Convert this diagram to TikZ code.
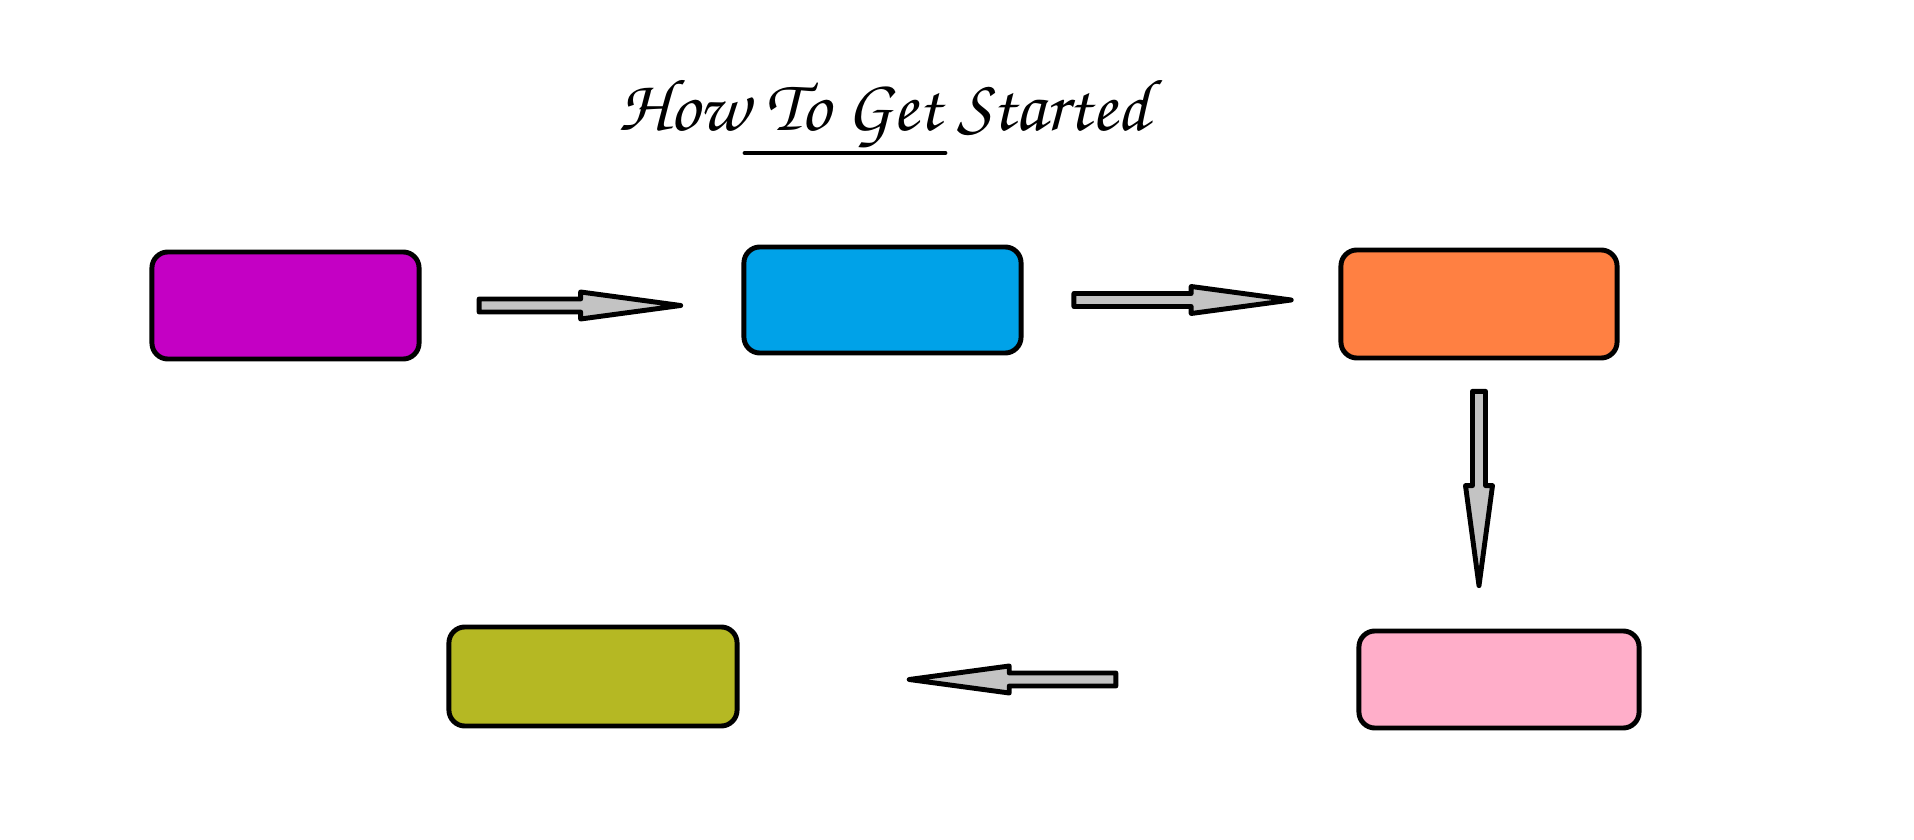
\documentclass[tikz,border=0pt]{standalone}
\usepackage[T1]{fontenc}
\usetikzlibrary{calc}

\definecolor{stagepurple}{HTML}{C400C4}
\definecolor{stageblue}{HTML}{00A2E8}
\definecolor{stageorange}{HTML}{FF8042}
\definecolor{stagepink}{HTML}{FFAEC9}
\definecolor{stageolive}{HTML}{B5B823}
\definecolor{arrowgray}{HTML}{C3C3C3}

\tikzset{
  stage/.style={draw=black, line width=1.4pt, rounded corners=0.16cm, inner sep=0pt},
  flow/.style={draw=black, fill=arrowgray, line width=1.4pt, line join=round}
}

% block arrow: from, to, start fraction, tip fraction
\newcommand{\blockarrow}[4]{
  \coordinate (bs) at ($(#1)!#3!(#2)$);
  \coordinate (bt) at ($(#1)!#4!(#2)$);
  \coordinate (bh) at ($(bt)!1cm!(bs)$);
  \draw [flow] ($(bs)!0.065cm!90:(bt)$) -- ($(bh)!0.065cm!90:(bt)$)
    -- ($(bh)!0.135cm!90:(bt)$) -- (bt) -- ($(bh)!0.135cm!-90:(bt)$)
    -- ($(bh)!0.065cm!-90:(bt)$) -- ($(bs)!0.065cm!-90:(bt)$) -- cycle;
}

\begin{document}
\begin{tikzpicture}[x=0.01cm, y=-0.01cm]
\useasboundingbox (0,0) rectangle (1914,840);

\node (title) [anchor=base] at (884,131) {\fontsize{21}{24}\fontfamily{pzc}\selectfont How To Get Started};
\draw [line width=1.4pt, line cap=round] (745,153) -- (945,153);

\node (purple) [stage, fill=stagepurple, minimum width=2.67cm, minimum height=1.07cm] at (285.5,305.5) {};
\node (blue) [stage, fill=stageblue, minimum width=2.77cm, minimum height=1.06cm] at (882.5,300) {};
\node (orange) [stage, fill=stageorange, minimum width=2.76cm, minimum height=1.08cm] at (1479,304) {};
\node (pink) [stage, fill=stagepink, minimum width=2.80cm, minimum height=0.97cm] at (1499,679.5) {};
\node (olive) [stage, fill=stageolive, minimum width=2.88cm, minimum height=0.99cm] at (593,676.5) {};

\blockarrow{purple.east}{purple.east -| blue.west}{0.18}{0.81}
\blockarrow{blue.east}{blue.east -| orange.west}{0.16}{0.85}
\blockarrow{orange.south}{orange.south |- pink.north}{0.115}{0.84}
\blockarrow{pink.west}{pink.west -| olive.east}{0.39}{0.725}
\end{tikzpicture}
\end{document}
